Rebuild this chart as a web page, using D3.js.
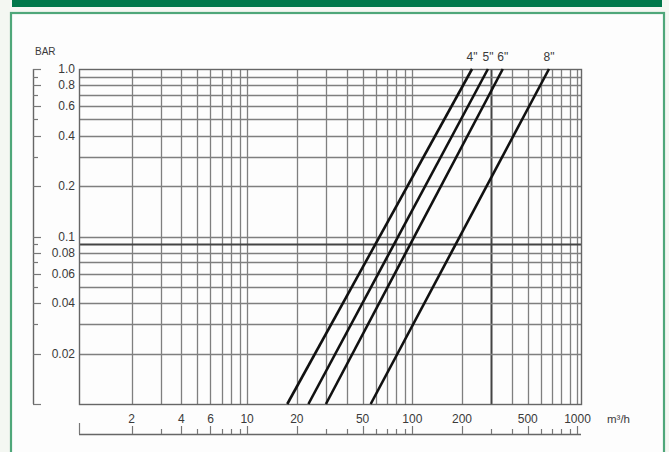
<!DOCTYPE html>
<html><head><meta charset="utf-8">
<script src="https://cdn.jsdelivr.net/npm/d3@7"></script>
<style>
html,body{margin:0;padding:0;background:#f4f7f2;}
svg{display:block;}
text{font-family:"Liberation Sans Narrow","Liberation Sans",Arial,sans-serif;fill:#3a3a3a;}
</style></head>
<body>
<svg id="c" width="669" height="452"></svg>
<script>
// ---- data ----
const seriesNames = ['4"', '5"', '6"', '8"'];
const pressureEnds = [0.01, 1.0];            // BAR at the two ends of each curve
const flowAtLow  = [17.5, 23.5, 30, 56];     // m³/h at 0.01 bar
const flowAtHigh = [230, 287, 353, 672];     // m³/h at 1.0 bar
const xTickLabels = [2, 4, 6, 10, 20, 50, 100, 200, 500, 1000];
const yTickLabels = ["1.0", "0.8", "0.6", "0.4", "0.2", "0.1", "0.08", "0.06", "0.04", "0.02"];
const yTickValues = [1.0, 0.8, 0.6, 0.4, 0.2, 0.1, 0.08, 0.06, 0.04, 0.02];
const darkX = [300];
const darkY = [0.09];

const svg = d3.select("#c");

// page frame
svg.append("rect").attr("x",0).attr("y",0).attr("width",669).attr("height",452).attr("fill","#f4f7f2");
svg.append("rect").attr("x",12).attr("y",0).attr("width",650).attr("height",7).attr("fill","#00784a");
svg.append("rect").attr("x",11).attr("y",13).attr("width",653).attr("height",445)
  .attr("fill","#fdfdfd").attr("stroke","#4fa77a").attr("stroke-width",2.2);

// scales
const L = 79, R = 581, T = 69, B = 404;
const x = d3.scaleLog().domain([0.96, 1050]).range([L, R]);
const y = d3.scaleLog().domain([0.01, 1.0]).range([B, T]);

// grid values (1..9 per decade)
const xGrid = [], yGrid = [];
for (let e = 0; e <= 3; e++) for (let m = 1; m <= 9; m++) { const v = m * Math.pow(10, e); if (v > 1 && v <= 1000) xGrid.push(v); }
for (let e = -2; e <= -1; e++) for (let m = 1; m <= 9; m++) { const v = m * Math.pow(10, e); if (v > 0.01 && v < 1) yGrid.push(v); }

const g = svg.append("g");
g.selectAll(".vg").data(xGrid).join("line")
  .attr("x1", d => Math.round(x(d)) + 0.5).attr("x2", d => Math.round(x(d)) + 0.5)
  .attr("y1", T).attr("y2", B)
  .attr("stroke", d => darkX.includes(d) ? "#444" : "#7f7f7f")
  .attr("stroke-width", d => darkX.includes(d) ? 2 : 1.3);
g.selectAll(".hg").data(yGrid).join("line")
  .attr("y1", d => Math.round(y(d)) + 0.5).attr("y2", d => Math.round(y(d)) + 0.5)
  .attr("x1", L).attr("x2", R)
  .attr("stroke", d => darkY.includes(d) ? "#444" : "#7f7f7f")
  .attr("stroke-width", d => darkY.includes(d) ? 2 : 1.3);
// frame
g.append("rect").attr("x", L + 0.5).attr("y", T + 0.5).attr("width", R - L).attr("height", B - T)
  .attr("fill", "none").attr("stroke", "#666").attr("stroke-width", 1.4);

// curves
const lineGen = d3.line().x(d => x(d[0])).y(d => y(d[1]));
seriesNames.forEach((name, i) => {
  const pts = [[flowAtLow[i], pressureEnds[0]], [flowAtHigh[i], pressureEnds[1]]];
  g.append("path").attr("d", lineGen(pts)).attr("fill", "none")
    .attr("stroke", "#111").attr("stroke-width", 2.6);
  g.append("text").attr("x", x(flowAtHigh[i])).attr("y", 61).attr("text-anchor", "middle")
    .attr("font-size", 12).text(name);
});

// left axis (detached)
const AX = 33;
const yAxisG = svg.append("g").attr("transform", `translate(${AX},0)`);
const yAllTicks = [0.01].concat(yGrid, [1.0]);
yAxisG.append("line").attr("x1", 0.5).attr("x2", 0.5).attr("y1", T).attr("y2", B).attr("stroke", "#666").attr("stroke-width", 1.4);
yAxisG.selectAll(".t").data(yAllTicks).join("line")
  .attr("x1", 0).attr("x2", d => yTickValues.some(v => Math.abs(v - d) < 1e-9) || d === 0.01 ? 8 : 5)
  .attr("y1", d => Math.round(y(d)) + 0.5).attr("y2", d => Math.round(y(d)) + 0.5)
  .attr("stroke", "#777").attr("stroke-width", 1.2);
svg.selectAll(".yl").data(yTickValues).join("text")
  .attr("x", 75).attr("y", d => y(d) + 4).attr("text-anchor", "end").attr("font-size", 12)
  .text((d, i) => yTickLabels[i]);
svg.append("text").attr("x", 35).attr("y", 55).attr("font-size", 10).text("BAR");

// bottom axis (detached)
const AY = 434;
const xAllTicks = [0.96].concat(xGrid);
svg.append("line").attr("x1", L).attr("x2", R).attr("y1", AY + 0.5).attr("y2", AY + 0.5).attr("stroke", "#666").attr("stroke-width", 1.4);
svg.selectAll(".xt").data(xAllTicks).join("line")
  .attr("x1", d => Math.round(x(d)) + 0.5).attr("x2", d => Math.round(x(d)) + 0.5)
  .attr("y1", AY).attr("y2", d => d < 1 ? AY - 11 : (xTickLabels.includes(d) ? AY - 8 : AY - 5))
  .attr("stroke", "#777").attr("stroke-width", 1.2);
svg.selectAll(".xl").data(xTickLabels).join("text")
  .attr("x", d => x(d)).attr("y", 423).attr("text-anchor", "middle").attr("font-size", 12)
  .text(d => d);
svg.append("text").attr("x", 607).attr("y", 423).attr("font-size", 11.5).text("m³/h");
</script>
</body></html>
